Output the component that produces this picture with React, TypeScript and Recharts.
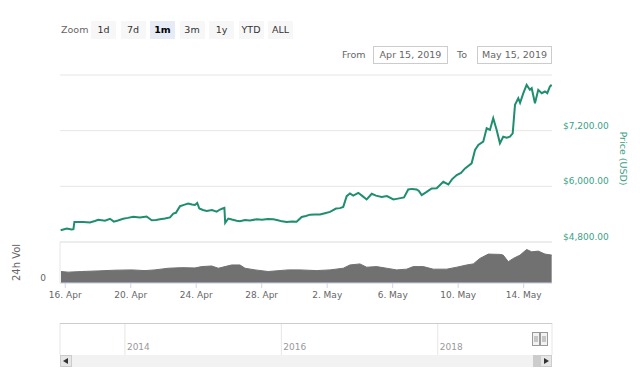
import React from "react";
import {
  LineChart,
  Line,
  AreaChart,
  Area,
  XAxis,
  YAxis,
  CartesianGrid,
  ReferenceArea,
  Label,
} from "recharts";

const FONT = '"DejaVu Sans", Verdana, sans-serif';

// days counted from 15 Apr 2019 00:00
const priceDays = [
  0.72, 1.09, 1.39, 1.5, 1.56, 2.1, 2.51, 2.81, 3.02, 3.43, 3.73, 3.97, 4.22, 4.54, 4.83, 5.15,
  5.56, 5.97, 6.28, 6.54, 6.79, 7.09, 7.4, 7.6, 7.76, 8.01, 8.25, 8.51, 8.74, 8.92, 9.06, 9.19,
  9.41, 9.64, 9.96, 10.25, 10.45, 10.61, 10.72, 10.77, 10.96, 11.18, 11.47, 11.67, 11.98, 12.28,
  12.69, 13.02, 13.38, 13.71, 13.99, 14.24, 14.52, 14.85, 15.13, 15.44, 15.7, 15.95, 16.25, 16.56,
  16.86, 17.17, 17.54, 17.78, 17.98, 18.19, 18.39, 18.59, 18.9, 19.12, 19.41, 19.72, 19.98, 20.33,
  20.65, 21.04, 21.32, 21.69, 21.95, 22.18, 22.46, 22.6, 22.77, 23.03, 23.38, 23.69, 24.09, 24.4,
  24.62, 24.91, 25.17, 25.42, 25.82, 26.03, 26.23, 26.53, 26.74, 26.94, 27.14, 27.35, 27.55,
  27.75, 27.96, 28.16, 28.33, 28.47, 28.67, 28.78, 28.98, 29.18, 29.38, 29.49, 29.69, 29.89,
  30.1, 30.3, 30.44, 30.6, 30.71,
];
const priceValues = [
  5053, 5090, 5068, 5075, 5232, 5232, 5220, 5254, 5280, 5260, 5300, 5240, 5265, 5300, 5320, 5345,
  5330, 5350, 5270, 5275, 5290, 5305, 5330, 5414, 5430, 5572, 5600, 5630, 5610, 5600, 5643, 5522,
  5490, 5470, 5490, 5455, 5500, 5522, 5535, 5211, 5306, 5285, 5260, 5250, 5275, 5265,
  5290, 5280, 5295, 5290, 5270, 5245, 5232, 5240, 5235, 5340, 5360, 5390, 5395, 5392,
  5420, 5449, 5522, 5530, 5557, 5788, 5846, 5800, 5860, 5800, 5717, 5840, 5800, 5773,
  5790, 5717, 5735, 5760, 5933, 5945, 5933, 5900, 5810, 5870, 5955, 5960, 6097, 6040,
  6150, 6242, 6290, 6387, 6495, 6783, 6890, 6963, 7252, 7216, 7468, 7215, 6927,
  7070, 7050, 7070, 7140, 7756, 7900, 7800, 8008, 8188, 8080, 8115, 7792, 8080,
  8008, 8044, 8008, 8151, 8188,
];

const volumeDays = [
  0.74, 1.18, 2.0, 3.02, 4.04, 5.06, 5.87, 6.48, 7.29, 8.11, 8.92, 9.33, 9.94, 10.35, 10.76,
  11.16, 11.67, 11.98, 12.59, 13.4, 14.62, 15.33, 16.36, 17.17, 17.98, 18.39, 19.0, 19.41, 20.02,
  20.63, 21.24, 21.85, 22.26, 22.87, 23.48, 24.3, 24.91, 25.52, 25.92, 26.33, 26.84, 27.55, 27.75,
  28.06, 28.37, 28.78, 29.18, 29.49, 29.89, 30.3, 30.71,
];
// 24h volume, billions USD
const volumeValues = [
  11.2, 10.6, 11.2, 11.8, 12.5, 12.8, 12.1, 12.8, 14.4, 15.0, 14.7, 16.0, 16.6, 14.4, 16.0,
  17.6, 17.6, 14.4, 12.8, 11.2, 12.8, 12.8, 12.1, 12.8, 14.4, 17.6, 18.6, 15.4, 16.0,
  14.4, 12.8, 13.5, 16.0, 16.0, 13.5, 13.5, 15.4, 17.6, 18.6, 24.0, 28.2, 27.9, 27.2,
  20.8, 24.0, 27.2, 32.7, 30.4, 31.1, 28.2, 27.2,
];

const dayTicks = [1, 5, 9, 13, 17, 21, 25, 29];
const dayTickLabels = ["16. Apr", "20. Apr", "24. Apr", "28. Apr", "2. May", "6. May", "10. May", "14. May"];
const priceTicks = [4800, 6000, 7200, 8400];
const volumeTicks = [0, 40];
const navYears = [2014, 2016, 2018];
const zoomButtons = ["1d", "7d", "1m", "3m", "1y", "YTD", "ALL"];
const selectedZoom = "1m";
const fromDate = "Apr 15, 2019";
const toDate = "May 15, 2019";

const DAY_DOMAIN: [number, number] = [0.68, 30.73];
const NAV_DOMAIN: [number, number] = [2013.17, 2019.46];
const NAV_SELECTION: [number, number] = [2019.22, 2019.36];

const priceData = priceDays.map((d, i) => ({ d, price: priceValues[i] }));
const volumeData = volumeDays.map((d, i) => ({ d, vol: volumeValues[i] }));
const navData = NAV_DOMAIN.map((t) => ({ t, v: 0.5 }));

const dayLabel = (v: number) => dayTickLabels[dayTicks.indexOf(v)] ?? "";
const money = (v: number) =>
  "$" + v.toLocaleString("en-US", { minimumFractionDigits: 2, maximumFractionDigits: 2 });

function PriceTick({ x, y, payload }: any) {
  if (payload.value === 8400) return <g />;
  return (
    <text x={x} y={y - 2} fill="#3c9f86" fontSize={9} fontFamily={FONT}>
      {money(payload.value)}
    </text>
  );
}

function VolumeTick({ x, y, payload }: any) {
  if (payload.value !== 0) return <g />;
  return (
    <text x={x} y={y - 2} fill="#666" fontSize={9} fontFamily={FONT} textAnchor="end">
      {payload.value}
    </text>
  );
}

function NavTick({ x, y, payload }: any) {
  // y is the bottom edge of the navigator pane
  return (
    <text x={x + 2} y={y - 5} fill="#999" fontSize={9} fontFamily={FONT}>
      {payload.value}
    </text>
  );
}

export default function App() {
  return (
    <div
      style={{
        position: "absolute",
        left: 0,
        top: 0,
        width: 640,
        height: 380,
        background: "#fff",
        fontFamily: FONT,
        overflow: "hidden",
      }}
    >
      {/* range selector */}
      <div style={{ position: "absolute", left: 61, top: 24, fontSize: 9.5, color: "#666" }}>Zoom</div>
      {zoomButtons.map((b, i) => (
        <div
          key={b}
          style={{
            position: "absolute",
            left: 91 + i * 29.5,
            top: 21,
            width: 25,
            height: 18,
            lineHeight: "18px",
            textAlign: "center",
            fontSize: 9.5,
            background: b === selectedZoom ? "#e6ebf5" : "#f7f7f7",
            color: b === selectedZoom ? "#000" : "#333",
            fontWeight: b === selectedZoom ? "bold" : "normal",
          }}
        >
          {b}
        </div>
      ))}
      <div style={{ position: "absolute", left: 342, top: 49, fontSize: 9.5, color: "#666" }}>From</div>
      <div
        style={{
          position: "absolute",
          left: 373,
          top: 46,
          width: 73,
          height: 16,
          lineHeight: "16px",
          border: "1px solid #ccc",
          fontSize: 9.5,
          color: "#666",
          textAlign: "center",
        }}
      >
        {fromDate}
      </div>
      <div style={{ position: "absolute", left: 457, top: 49, fontSize: 9.5, color: "#666" }}>To</div>
      <div
        style={{
          position: "absolute",
          left: 477,
          top: 46,
          width: 73,
          height: 16,
          lineHeight: "16px",
          border: "1px solid #ccc",
          fontSize: 9.5,
          color: "#666",
          textAlign: "center",
        }}
      >
        {toDate}
      </div>

      {/* price pane */}
      <div style={{ position: "absolute", left: 0, top: 0 }}>
        <LineChart width={640} height={250} data={priceData} margin={{ top: 75, right: 0, bottom: 8, left: 60 }}>
          <CartesianGrid vertical={false} stroke="#e6e6e6" />
          <XAxis dataKey="d" type="number" domain={DAY_DOMAIN} allowDataOverflow hide />
          <YAxis
            orientation="right"
            width={88}
            domain={[4800, 8400]}
            ticks={priceTicks}
            interval={0}
            axisLine={false}
            tickLine={false}
            tickMargin={5}
            tick={<PriceTick />}
          >
            <Label
              content={(props: any) => {
                const vb = props.viewBox || {};
                const cx = vb.x + 70;
                const cy = vb.y + vb.height / 2;
                return (
                  <text
                    x={cx}
                    y={cy}
                    transform={`rotate(90 ${cx} ${cy})`}
                    textAnchor="middle"
                    dominantBaseline="middle"
                    fill="#3c9f86"
                    fontSize={9.5}
                    fontFamily={FONT}
                  >
                    Price (USD)
                  </text>
                );
              }}
            />
          </YAxis>
          <Line
            dataKey="price"
            type="linear"
            stroke="#1f8e6f"
            strokeWidth={2}
            dot={false}
            isAnimationActive={false}
          />
        </LineChart>
      </div>

      {/* volume pane */}
      <div style={{ position: "absolute", left: 0, top: 232 }}>
        <AreaChart width={640} height={75} data={volumeData} margin={{ top: 10, right: 88, bottom: 0, left: 0 }}>
          <CartesianGrid vertical={false} stroke="#e6e6e6" />
          <XAxis
            dataKey="d"
            type="number"
            domain={DAY_DOMAIN}
            allowDataOverflow
            ticks={dayTicks}
            interval={0}
            tickFormatter={dayLabel}
            height={24}
            tickSize={5}
            tickMargin={4}
            tick={{ fill: "#666", fontSize: 9, fontFamily: FONT }}
            axisLine={{ stroke: "#ccd6eb" }}
            tickLine={{ stroke: "#ccd6eb" }}
          />
          <YAxis
            width={60}
            domain={[0, 40]}
            ticks={volumeTicks}
            interval={0}
            axisLine={{ stroke: "#e6e6e6" }}
            tickLine={false}
            tickSize={6}
            tickMargin={8}
            tick={<VolumeTick />}
          >
            <Label
              content={(props: any) => {
                const vb = props.viewBox || {};
                const cx = 17;
                const cy = vb.y + vb.height / 2;
                return (
                  <text
                    x={cx}
                    y={cy}
                    transform={`rotate(-90 ${cx} ${cy})`}
                    textAnchor="middle"
                    dominantBaseline="middle"
                    fill="#666"
                    fontSize={10}
                    fontFamily={FONT}
                  >
                    24h Vol
                  </text>
                );
              }}
            />
          </YAxis>
          <Area
            dataKey="vol"
            type="linear"
            stroke="#717171"
            strokeWidth={1}
            fill="#717171"
            fillOpacity={1}
            isAnimationActive={false}
          />
        </AreaChart>
      </div>

      {/* navigator */}
      <div style={{ position: "absolute", left: 0, top: 300 }}>
        <LineChart width={640} height={80} data={navData} margin={{ top: 23, right: 88, bottom: 13, left: 60 }}>
          <CartesianGrid horizontal={false} stroke="#e6e6e6" />
          <XAxis
            dataKey="t"
            type="number"
            domain={NAV_DOMAIN}
            allowDataOverflow
            ticks={navYears}
            interval={0}
            height={12}
            tickSize={0}
            tickMargin={0}
            axisLine={false}
            tickLine={false}
            tick={<NavTick />}
          />
          <YAxis hide domain={[0, 1]} />
          <ReferenceArea
            x1={NAV_SELECTION[0]}
            x2={NAV_SELECTION[1]}
            fill="#6685c2"
            fillOpacity={0.3}
            stroke="none"
            ifOverflow="visible"
          />
        </LineChart>
      </div>

      {/* navigator outline, scrollbar and handles */}
      <svg width={640} height={380} style={{ position: "absolute", left: 0, top: 0, pointerEvents: "none" }}>
        <line x1={60} y1={323.5} x2={552} y2={323.5} stroke="#cccccc" />
        <rect x={60} y={355} width={492} height={12} fill="#f2f2f2" />
        <rect x={533} y={355} width={13} height={12} fill="#cccccc" />
        <rect x={60.5} y={355.5} width={11} height={11} fill="#e6e6e6" stroke="#cccccc" />
        <path d="M68 358 L63 361 L68 364 Z" fill="#333" />
        <rect x={540.5} y={355.5} width={11} height={11} fill="#e6e6e6" stroke="#cccccc" />
        <path d="M544 358 L549 361 L544 364 Z" fill="#333" />
        <rect x={532.5} y={332.5} width={7} height={13} fill="#f2f2f2" stroke="#999" />
        <line x1={535} y1={336} x2={535} y2={342} stroke="#999" />
        <line x1={537} y1={336} x2={537} y2={342} stroke="#999" />
        <rect x={540.5} y={332.5} width={7} height={13} fill="#f2f2f2" stroke="#999" />
        <line x1={543} y1={336} x2={543} y2={342} stroke="#999" />
        <line x1={545} y1={336} x2={545} y2={342} stroke="#999" />
      </svg>
    </div>
  );
}
